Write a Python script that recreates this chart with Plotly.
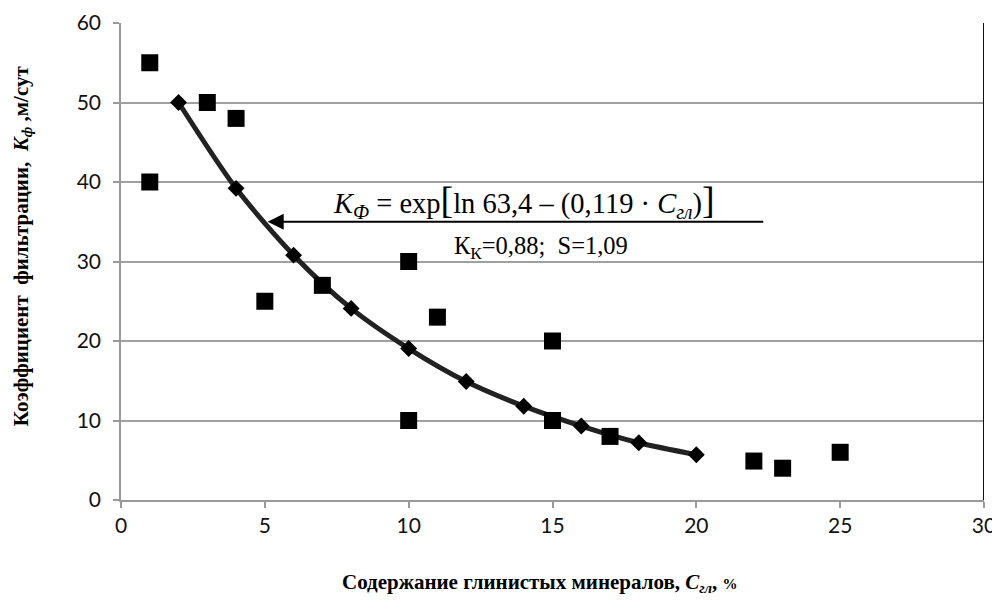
import plotly.graph_objects as go

# Observed data (squares)
obs_x = [1, 1, 3, 4, 5, 7, 10, 10, 11, 15, 15, 17, 22, 23, 25]
obs_y = [55, 40, 50, 48, 25, 27, 30, 10, 23, 20, 10, 8, 4.9, 4, 6]

# Fitted curve points (diamonds)
fit_x = [2, 4, 6, 8, 10, 12, 14, 16, 18, 20]
fit_y = [50, 39.2, 30.8, 24.1, 19.05, 14.9, 11.8, 9.3, 7.2, 5.7]

x_ticks = [0, 5, 10, 15, 20, 25, 30]
y_ticks = [0, 10, 20, 30, 40, 50, 60]

fig = go.Figure()

fig.add_trace(go.Scatter(
    x=fit_x, y=fit_y, mode="lines+markers",
    line=dict(color="#222222", width=5, shape="spline", smoothing=0.8),
    marker=dict(symbol="diamond", size=13, color="#000000"),
    showlegend=False, hoverinfo="skip"))

fig.add_trace(go.Scatter(
    x=obs_x, y=obs_y, mode="markers",
    marker=dict(symbol="square", size=17, color="#000000"),
    showlegend=False))

serif = "Liberation Serif, Times New Roman, serif"

fig.add_annotation(
    x=5.1, y=35, ax=22.38, ay=35, xref="x", yref="y", axref="x", ayref="y",
    showarrow=True, arrowhead=2, arrowsize=1.6, arrowwidth=2, arrowcolor="#000000",
    text="")

fig.add_annotation(
    x=14.0, y=37.6, xref="x", yref="y", showarrow=False,
    text="<i>K</i><sub><i>Ф</i></sub> = exp<span style='font-size:38px'>[</span>ln 63,4 – (0,119 · <i>C</i><sub><i>гл</i></sub>)<span style='font-size:38px'>]</span>",
    font=dict(family=serif, size=28.5, color="#000000"))

fig.add_annotation(
    x=14.6, y=31.8, xref="x", yref="y", showarrow=False,
    text="К<sub>К</sub>=0,88;  S=1,09",
    font=dict(family=serif, size=24.5, color="#000000"))

# axis titles
fig.add_annotation(
    x=0.4855, y=-0.174, xref="paper", yref="paper", showarrow=False,
    xanchor="center", yanchor="middle",
    text="<b>Содержание глинистых минералов, <i>C</i><sub><i>гл</i></sub>, <span style='font-size:15px'>%</span></b>",
    font=dict(family=serif, size=21, color="#000000"))

fig.add_annotation(
    x=-0.1147, y=0.532, xref="paper", yref="paper", showarrow=False,
    xanchor="center", yanchor="middle", textangle=-90,
    text="<b>Коэффициент  фильтрации,  <i>K</i><sub><i>ф</i></sub> ,м/сут</b>",
    font=dict(family=serif, size=21, color="#000000"))

# page body has an 8px default margin; compensate in the figure margins
fig.update_layout(
    width=992, height=593,
    margin=dict(l=113, r=16, t=15, b=101),
    plot_bgcolor="white", paper_bgcolor="white",
    font=dict(family="Lato, Open Sans, sans-serif", size=21, color="#111111"),
    shapes=[dict(type="line", xref="x", yref="y", x0=30, x1=30, y0=0, y1=60,
                 line=dict(color="#111111", width=2))],
)

fig.update_xaxes(
    range=[0, 30], tickvals=x_ticks, showgrid=False, zeroline=False,
    showline=True, linecolor="#9a9a9a", linewidth=1.5,
    ticks="outside", ticklen=6, tickcolor="#9a9a9a", tickwidth=1.5,
    ticklabelstandoff=0, automargin=False)

fig.update_yaxes(
    range=[0, 60], tickvals=y_ticks, showgrid=True, gridcolor="#a0a0a0", gridwidth=1.5,
    zeroline=False, showline=True, linecolor="#9a9a9a", linewidth=1.5,
    ticks="outside", ticklen=6, tickcolor="#9a9a9a", tickwidth=1.5,
    ticklabelstandoff=8, automargin=False)

fig.write_html("out.html")
